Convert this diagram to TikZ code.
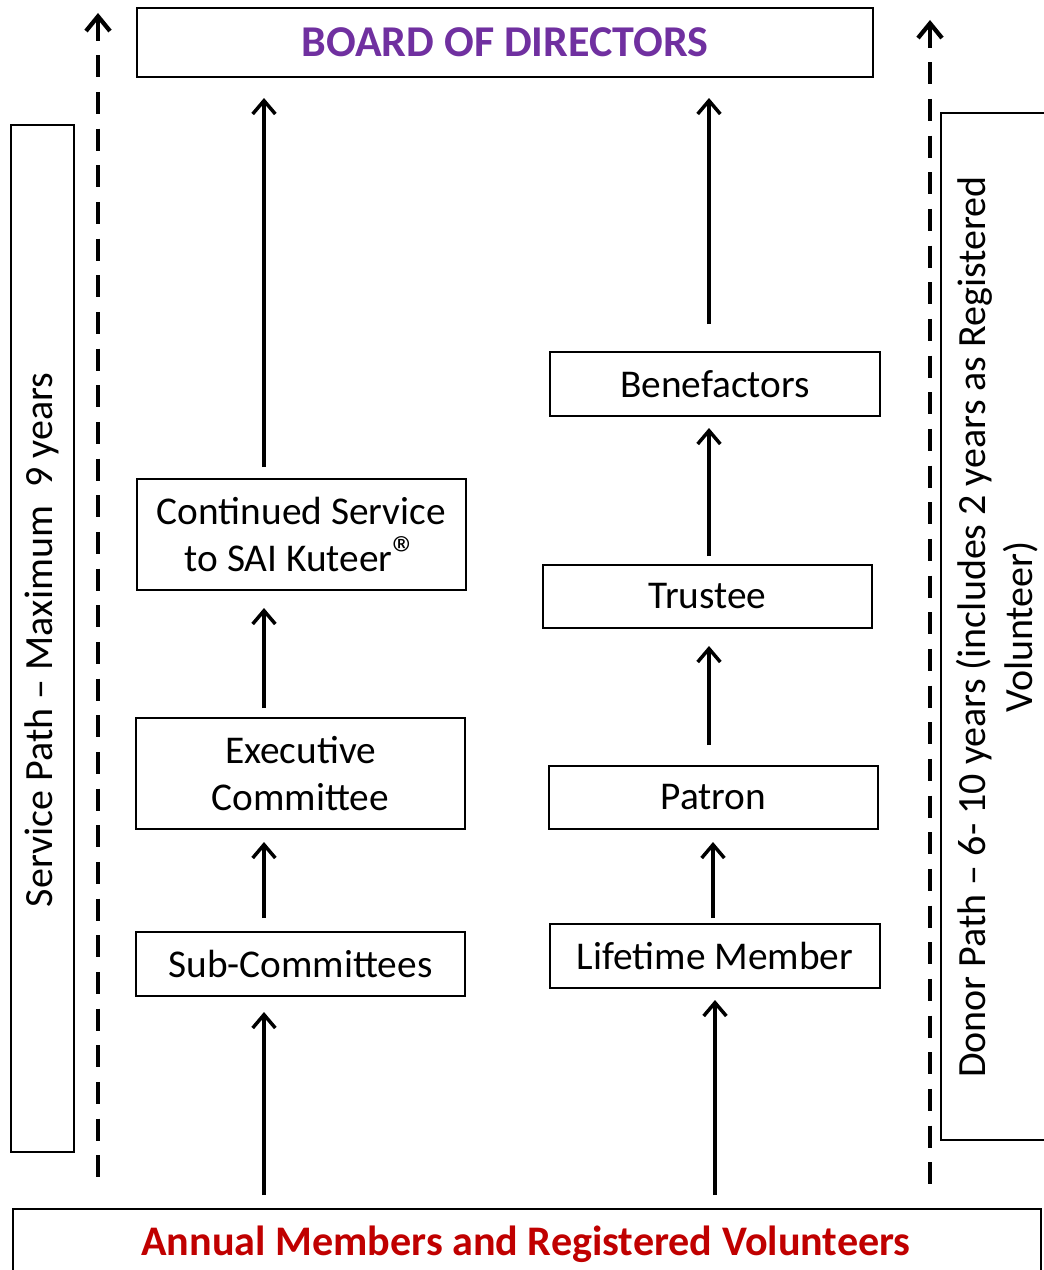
\documentclass[tikz,border=0pt]{standalone}
\usepackage{fontspec}
\setmainfont{Carlito}
\usetikzlibrary{arrows.meta}
\definecolor{bodpurple}{HTML}{7030A0}
\definecolor{annred}{HTML}{C00000}
\newcommand{\regmark}{{\fontsize{38}{38}\selectfont ®}}
\begin{document}
\begin{tikzpicture}[x=0.75pt,y=-0.75pt,
  box/.style={draw=black,line width=1.2pt,inner sep=0pt,align=center,font=\fontsize{29.5}{35}\selectfont},
  uparrow/.style={line width=2.6pt,-{Straight Barb[length=10pt,width=17pt,line width=2.6pt]}},
  dasharrow/.style={line width=3.6pt,dash pattern=on 16.5pt off 11pt,{Straight Barb[length=11pt,width=18pt,line width=3.2pt]}-},
  sidebox/.style={draw=black,line width=1pt}]
\useasboundingbox (0,0) rectangle (1044,1270);
% Board
\node[box,minimum width=736*0.75pt,minimum height=69*0.75pt,anchor=north west] (bod) at (136,7) {};
\node[font=\fontsize{33}{36}\selectfont\bfseries,text=bodpurple] (bodt) at (bod.center) {BOARD OF DIRECTORS};
% Annual
\node[box,minimum width=1028*0.75pt,minimum height=80*0.75pt,anchor=north west] (ann) at (12,1208) {};
\node[font=\fontsize{31.6}{34}\selectfont\bfseries,text=annred] (annt) at (526,1244) {Annual Members and Registered Volunteers};
% side boxes
\draw[sidebox] (11,125) rectangle (74,1152);
\node[rotate=90,font=\fontsize{30}{36}\selectfont] (svc) at (42,640) {Service Path -- Maximum\ \ 9 years};
\draw[sidebox] (1050,113) -- (941,113) -- (941,1140) -- (1050,1140);
\node[rotate=90,align=center,inner sep=0pt,font=\fontsize{30}{35}\selectfont] (don) at (997,627) {Donor Path -- 6- 10 years (includes 2 years as Registered\\Volunteer)};
% dashed arrows
\coordinate (lds) at (98,1185); \coordinate (lde) at (98,13);
\coordinate (rds) at (930,1190); \coordinate (rde) at (930,20);
\draw[dasharrow] (lde) -- (lds);
\draw[dasharrow] (rde) -- (rds);
% left column
\node[box,minimum width=329*0.75pt,minimum height=111*0.75pt] (cont) at (301.5,534.5) {Continued Service\\to SAI Kuteer\regmark};
\node[box,minimum width=329*0.75pt,minimum height=111*0.75pt] (exec) at (300.5,773.5) {Executive\\Committee};
\node[box,minimum width=329*0.75pt,minimum height=64*0.75pt] (sub) at (300.5,964) {Sub-Committees};
% right column
\node[box,minimum width=330*0.75pt,minimum height=64*0.75pt] (ben) at (715,384) {Benefactors};
\node[box,minimum width=329*0.75pt,minimum height=63*0.75pt] (tru) at (707.5,596.5) {Trustee};
\node[box,minimum width=329*0.75pt,minimum height=63*0.75pt] (pat) at (713.5,797.5) {Patron};
\node[box,minimum width=330*0.75pt,minimum height=64*0.75pt] (life) at (715,956) {Lifetime Member};
% arrows left
\coordinate (a1s) at (264,1195); \coordinate (a1e) at (264,1012);
\coordinate (a2s) at (264,918); \coordinate (a2e) at (264,842);
\coordinate (a3s) at (264,708); \coordinate (a3e) at (264,608);
\coordinate (a4s) at (264,467); \coordinate (a4e) at (264,98);
\draw[uparrow] (a1s) -- (a1e);
\draw[uparrow] (a2s) -- (a2e);
\draw[uparrow] (a3s) -- (a3e);
\draw[uparrow] (a4s) -- (a4e);
% arrows right
\coordinate (b1s) at (715,1195); \coordinate (b1e) at (715,1000);
\coordinate (b2s) at (713,918); \coordinate (b2e) at (713,842);
\coordinate (b3s) at (709,745); \coordinate (b3e) at (709,646);
\coordinate (b4s) at (709,556); \coordinate (b4e) at (709,428);
\coordinate (b5s) at (709,324); \coordinate (b5e) at (709,98);
\draw[uparrow] (b1s) -- (b1e);
\draw[uparrow] (b2s) -- (b2e);
\draw[uparrow] (b3s) -- (b3e);
\draw[uparrow] (b4s) -- (b4e);
\draw[uparrow] (b5s) -- (b5e);
\end{tikzpicture}
\end{document}
